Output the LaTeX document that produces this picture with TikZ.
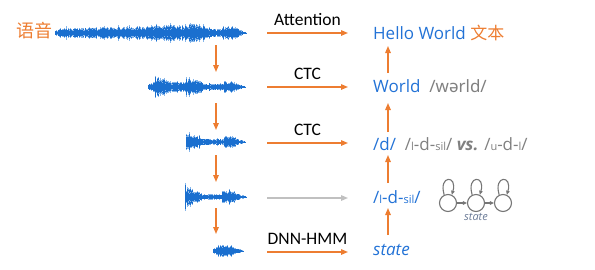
\documentclass[tikz,border=0pt]{standalone}
\usepackage{fontspec}
\setmainfont{Open Sans}
\newfontfamily\cjkfont{Noto Sans CJK SC}
\newfontfamily\lblfont{Carlito}
\newfontfamily\ipafont{Noto Sans}
\usetikzlibrary{positioning, arrows.meta, calc}
\definecolor{clrwave}{HTML}{1A6FCF}
\definecolor{clrwavelight}{HTML}{86B6EA}
\definecolor{clrorange}{HTML}{ED7D31}
\definecolor{clrblue}{HTML}{2272D6}
\definecolor{clrgray}{HTML}{808080}
\definecolor{clrlightgray}{HTML}{C0C0C0}
\definecolor{clrhmm}{HTML}{767676}
\definecolor{clrstate}{HTML}{6A7A96}

\newcommand{\wavepart}[5]{% y, x0, x1, a0, a1
  \pgfmathtruncatemacro{\wn}{(#3-#2)/0.5}%
  \foreach \i in {0,...,\wn}{%
    \pgfmathsetmacro{\wx}{#2+\i*0.5}%
    \pgfmathsetmacro{\wa}{(#4+(#5-#4)*\i/\wn)*(0.45+0.55*rnd)*(rnd>0.94 ? 1.35 : 1)}%
    \draw[wavefuzz] (\wx,#1-1.2*\wa) -- (\wx,#1+1.2*\wa);
    \draw[wavecore] (\wx,#1-\wa) -- (\wx,#1+\wa);
  }%
}
\newcommand{\wave}[2]{\foreach \xa/\xb/\aa/\ab in {#2}{\wavepart{#1}{\xa}{\xb}{\aa}{\ab}}}

\begin{document}
\begin{tikzpicture}[
    x=1pt, y=-1pt,
    >={Triangle[length=7pt,width=5.5pt]},
    wavecore/.style={color=clrwave, line width=0.5pt},
    wavefuzz/.style={color=clrwavelight, line width=0.5pt},
    arrow/.style={->, color=clrorange, line width=1.4pt},
    grayarrow/.style={->, color=clrlightgray, line width=1.4pt},
    word/.style={font=\fontsize{17}{20}\selectfont, text=clrblue, inner sep=0, anchor=base west},
    label/.style={font=\lblfont\fontsize{17.5}{20}\selectfont, text=black, inner sep=0, above=7pt},
    hmmstate/.style={circle, draw=clrhmm, line width=1.1pt, minimum size=17pt, inner sep=0},
    hmmarrow/.style={-{Triangle[length=4pt,width=3.5pt]}, color=clrhmm, line width=1.1pt},
]
\useasboundingbox (0,0) rectangle (595,269);
\pgfmathsetseed{12}
\coordinate (w_1) at (216,33);
\coordinate (w_2) at (216,87);
\coordinate (w_3) at (216,142);
\coordinate (w_4) at (216,197);
\coordinate (w_5) at (216,251);
\wave{33}{55/60/2/4, 60/100/4/5, 100/150/5/6, 150/185/6/7, 185/205/8/8, 205/222/4/3.5, 222/235/6/6, 235/246/5/0.5}
\wave{87}{148/155/3/5, 155/168/8/7, 168/186/5/4, 186/190/9/8, 190/205/7/4, 205/224/3/2.5, 224/234/5/5, 234/245/4/0.5}
\wave{142}{186/188/9/8, 188/200/7/5, 200/224/3/2.5, 224/234/5.5/5, 234/245/4/0.5}
\wave{197}{185/188/9/8, 188/200/7/4, 200/222/2.5/2.5, 222/234/5.5/5, 234/246/4/0.5}
\wave{251}{213/220/2/5, 220/232/6/5, 232/243/4/0.5}
\node[anchor=east, inner sep=0, font=\cjkfont\fontsize{18}{20}\selectfont, text=clrorange] (n_0) at (53,31) {语音};
\node[word] (n_1) at (373,39) {Hello World \textcolor{clrorange}{\cjkfont 文本}};
\node[word] (n_2) at (373,92) {World \ \textcolor{clrgray}{\ipafont /wərld/}};
\node[word] (n_3) at (373,150) {/d/ \ \textcolor{clrgray}{/{\fontsize{11}{12}\selectfont l}-d-{\fontsize{11}{12}\selectfont sil}/ \textbf{\textit{vs.}} /{\fontsize{11}{12}\selectfont u}-d-{\fontsize{11}{12}\selectfont l}/}};
\node[word] (n_4) at (373,203) {/{\fontsize{11}{12}\selectfont l}-d-{\fontsize{11}{12}\selectfont sil}/};
\node[word] (n_5) at (373,255) {\textit{state}};
\node[hmmstate] (s_1) at (448,203) {};
\node[hmmstate] (s_2) at (476,203) {};
\node[hmmstate] (s_3) at (503,203) {};
\node[below=1pt of s_2, inner sep=0, font=\fontsize{11}{12}\selectfont\itshape, text=clrstate] (h_0) {state};
\draw[hmmarrow] (s_1) -- (s_2);
\draw[hmmarrow] (s_2) -- (s_3);
\draw[hmmarrow] (s_1.115) .. controls +(-6,-20) and +(6,-20) .. (s_1.65);
\draw[hmmarrow] (s_2.115) .. controls +(-6,-20) and +(6,-20) .. (s_2.65);
\draw[hmmarrow] (s_3.115) .. controls +(-6,-20) and +(6,-20) .. (s_3.65);
\draw[arrow] ($(w_1)+(51,0)$) -- node[label] (l_1) {Attention} ($(w_1)+(132,0)$);
\draw[arrow] ($(w_2)+(51,0)$) -- node[label] (l_2) {CTC} ($(w_2)+(132,0)$);
\draw[arrow] ($(w_3)+(51,1)$) -- node[label] (l_3) {CTC} ($(w_3)+(132,1)$);
\draw[grayarrow] ($(w_4)+(51,1)$) -- ($(w_4)+(132,1)$);
\draw[arrow] ($(w_5)+(51,1)$) -- node[label] (l_5) {DNN-HMM} ($(w_5)+(132,1)$);
\draw[arrow] ([yshift=-12pt]w_1) -- ([yshift=15pt]w_2);
\draw[arrow] ([yshift=-16pt]w_2) -- ([yshift=12pt]w_3);
\draw[arrow] ([yshift=-13pt]w_3) -- ([yshift=15pt]w_4);
\draw[arrow] ([yshift=-11pt]w_4) -- ([yshift=17pt]w_5);
\draw[arrow] ([xshift=15pt,yshift=19pt]n_2.base west) -- ([xshift=15pt,yshift=-7pt]n_1.base west);
\draw[arrow] ([xshift=15pt,yshift=18pt]n_3.base west) -- ([xshift=15pt,yshift=-11pt]n_2.base west);
\draw[arrow] ([xshift=15pt,yshift=20pt]n_4.base west) -- ([xshift=15pt,yshift=-5pt]n_3.base west);
\draw[arrow] ([xshift=15pt,yshift=20pt]n_5.base west) -- ([xshift=15pt,yshift=-5pt]n_4.base west);
\end{tikzpicture}
\end{document}
